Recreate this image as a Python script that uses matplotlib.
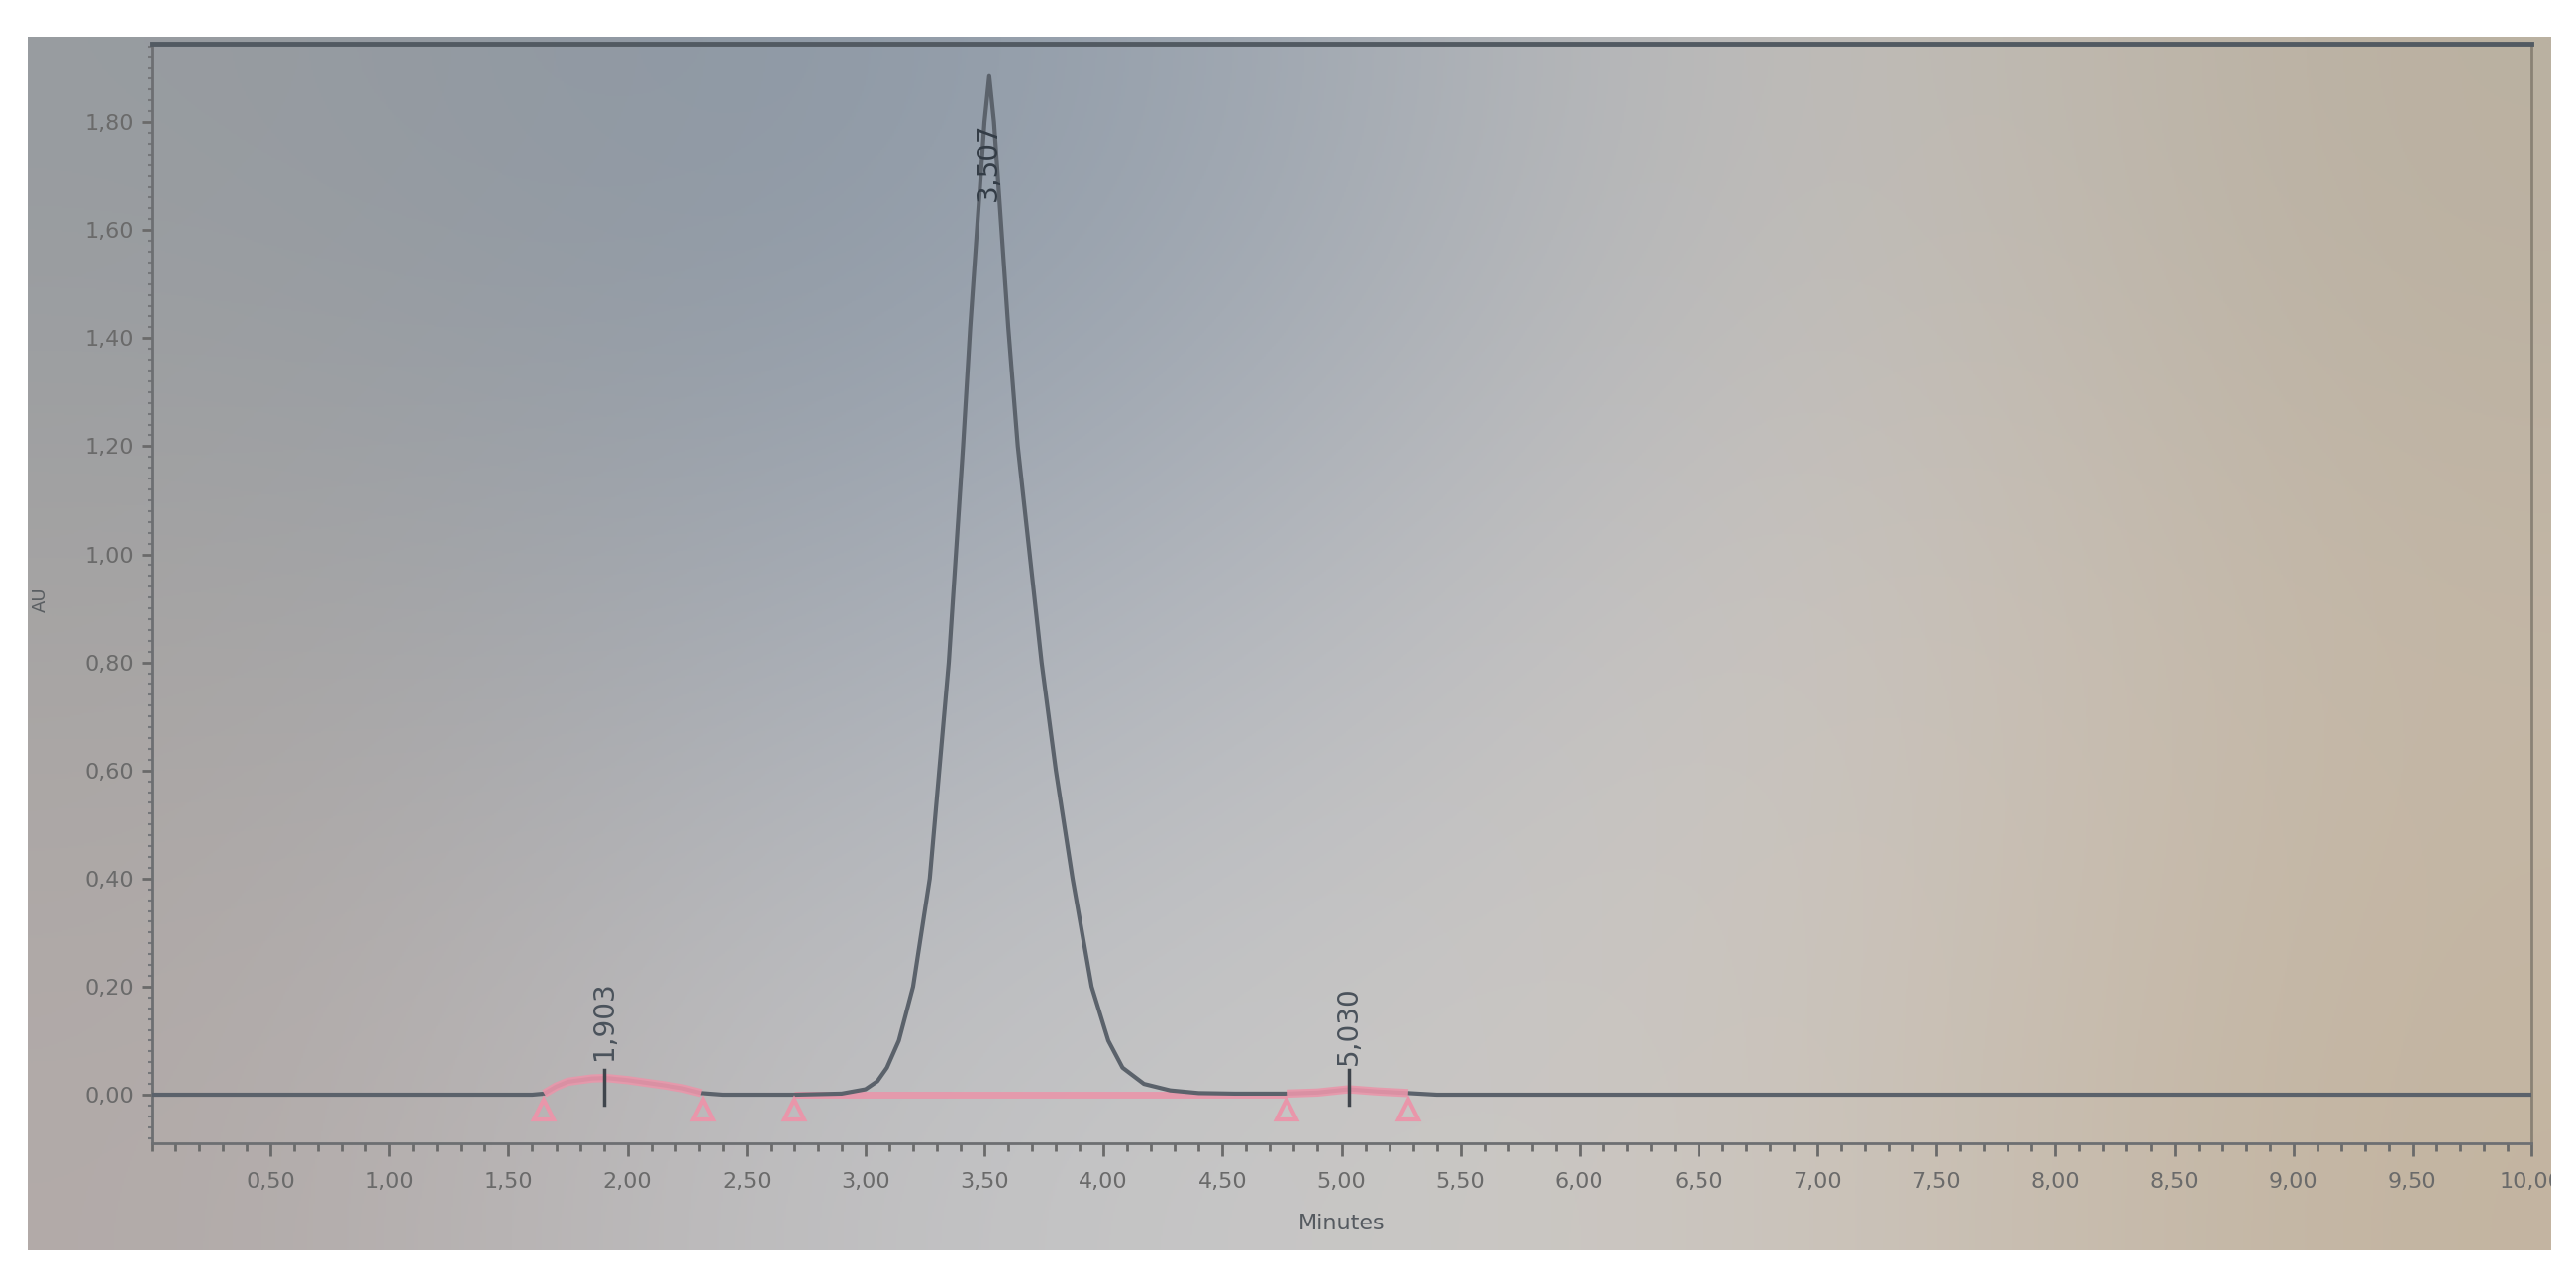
import numpy as np
import matplotlib
matplotlib.use("Agg")
import matplotlib.pyplot as plt
from matplotlib.patches import Rectangle
from matplotlib.ticker import MultipleLocator, FixedLocator, FuncFormatter

# ---------------- data ----------------
time_min = [0.00, 1.60, 1.65, 1.70, 1.75, 1.85, 1.91, 2.00, 2.08, 2.16, 2.23, 2.31, 2.40,
            2.70, 2.90, 3.00, 3.05, 3.09, 3.14, 3.20, 3.27, 3.31, 3.35, 3.38, 3.41, 3.44,
            3.47, 3.50, 3.52, 3.54, 3.57, 3.60, 3.64, 3.69, 3.74, 3.80, 3.87, 3.95, 4.02,
            4.08, 4.17, 4.28, 4.40, 4.55, 4.77, 4.90, 5.03, 5.15, 5.28, 5.40, 10.00]
absorbance = [0.000, 0.000, 0.002, 0.015, 0.024, 0.030, 0.031, 0.027, 0.022, 0.017, 0.012, 0.003, 0.000,
              0.000, 0.002, 0.010, 0.025, 0.050, 0.100, 0.200, 0.400, 0.600, 0.800, 1.000, 1.200, 1.420,
              1.610, 1.800, 1.885, 1.800, 1.610, 1.420, 1.200, 1.000, 0.800, 0.600, 0.400, 0.200, 0.100,
              0.050, 0.020, 0.008, 0.003, 0.002, 0.002, 0.004, 0.010, 0.006, 0.003, 0.000, 0.000]

peak_rt = [1.903, 3.517, 5.030]
peak_labels = ["1,903", "3,507", "5,030"]
peak_label_base = [0.065, 1.654, 0.055]
peak_start = [1.65, 2.70, 4.77]
peak_end = [2.32, 4.77, 5.28]
baseline_marks = [1.65, 2.32, 2.70, 4.77, 5.28]

x_ticks = [0.5 * i for i in range(1, 21)]
y_ticks = [0.2 * i for i in range(0, 10)]

# ---------------- figure ----------------
W, H = 2601, 1288
fig = plt.figure(figsize=(W / 100, H / 100), dpi=100)
fig.patch.set_facecolor("white")

# photo background with gradient
pl, pr, pt, pb = 28, 2576, 37, 1262
pax = fig.add_axes([pl / W, 1 - pb / H, (pr - pl) / W, (pb - pt) / H], zorder=0)
grad = np.array([
    [(152, 156, 160), (138, 150, 164), (158, 167, 178), (196, 193, 190), (186, 176, 160)],
    [(168, 165, 163), (165, 172, 182), (184, 187, 193), (205, 200, 196), (196, 183, 166)],
    [(178, 170, 168), (192, 192, 194), (200, 200, 200), (205, 198, 190), (195, 180, 160)],
], dtype=float) / 255.0
pax.imshow(grad, aspect="auto", interpolation="bicubic", extent=[0, 1, 0, 1])
pax.set_xlim(0, 1)
pax.set_ylim(0, 1)
pax.axis("off")

# main axes
al, ar, at, ab = 153, 2556, 44, 1154
ax = fig.add_axes([al / W, 1 - ab / H, (ar - al) / W, (ab - at) / H], zorder=2)
ax.set_facecolor("none")
ax.set_xlim(0.0, 10.0)
ax.set_ylim(-0.0898, 1.945)

t = np.array(time_min)
a = np.array(absorbance)

pink = "#e996aa"
# main peak integration baseline (under the signal)
ax.plot([peak_start[1], peak_end[1]], [0.0, 0.0], color=pink, lw=5, alpha=0.9,
        solid_capstyle="butt", zorder=2)
# signal
ax.plot(t, a, color="#5b626b", lw=3.0, zorder=3, solid_joinstyle="round")
# small peaks drawn in pink on top
for i in (0, 2):
    m = (t >= peak_start[i]) & (t <= peak_end[i])
    ax.plot(t[m], a[m], color=pink, lw=6, alpha=0.9, zorder=4, solid_capstyle="butt")

# peak start/end markers
ax.plot(baseline_marks, [-0.028] * len(baseline_marks), linestyle="none", marker="^",
        markersize=15, markerfacecolor="none", markeredgecolor=pink, markeredgewidth=3,
        zorder=5)

# retention time ticks and labels
for rt, lab, yb in zip(peak_rt, peak_labels, peak_label_base):
    if lab != "3,507":
        ax.plot([rt, rt], [-0.018, 0.045], color="#3f454c", lw=2.5, zorder=6)
        col = "#4a525b"
    else:
        col = "#333c46"
    ax.text(rt, yb, lab, rotation=90, ha="center", va="bottom", fontsize=20,
            color=col, family="DejaVu Sans", zorder=7)

# axes styling
for s in ("left", "bottom", "right"):
    ax.spines[s].set_color("#6d6f72")
    ax.spines[s].set_linewidth(2)
ax.spines["top"].set_color("#525a62")
ax.spines["top"].set_linewidth(3.5)
ax.spines["right"].set_color("#8a8275")

ax.xaxis.set_major_locator(FixedLocator(x_ticks))
ax.xaxis.set_minor_locator(MultipleLocator(0.1))
ax.yaxis.set_major_locator(FixedLocator(y_ticks))
ax.yaxis.set_minor_locator(MultipleLocator(0.02))
ax.xaxis.set_major_formatter(FuncFormatter(lambda v, p: f"{v:.2f}".replace(".", ",")))
ax.yaxis.set_major_formatter(FuncFormatter(lambda v, p: f"{v:.2f}".replace(".", ",")))

ax.tick_params(axis="x", which="major", direction="out", length=9, width=2,
               pad=12, labelsize=16, colors="#6a6a6a")
ax.tick_params(axis="x", which="minor", direction="out", length=6, width=2, colors="#6a6a6a")
ax.tick_params(axis="y", which="major", direction="out", length=7, width=2,
               pad=6, labelsize=16, colors="#6a6a6a")
ax.tick_params(axis="y", which="minor", direction="out", length=3, width=1.5, colors="#75777a")
for lab in ax.get_xticklabels() + ax.get_yticklabels():
    lab.set_family("DejaVu Sans")

fig.text(1355 / W, 1 - 1235 / H, "Minutes", ha="center", va="center", fontsize=16,
         color="#555a60", family="DejaVu Sans")
fig.text(41 / W, 1 - 605 / H, "AU", ha="center", va="center", rotation=90, fontsize=13,
         color="#5a5e62", family="DejaVu Sans")

# white margins to crop the photo
fig.add_artist(Rectangle((pr / W, 0), 1 - pr / W, 1, transform=fig.transFigure,
                         facecolor="white", edgecolor="none", zorder=10))
fig.add_artist(Rectangle((0, 0), 1, 1 - pb / H, transform=fig.transFigure,
                         facecolor="white", edgecolor="none", zorder=10))

fig.savefig("out.png", dpi=100, facecolor="white")
